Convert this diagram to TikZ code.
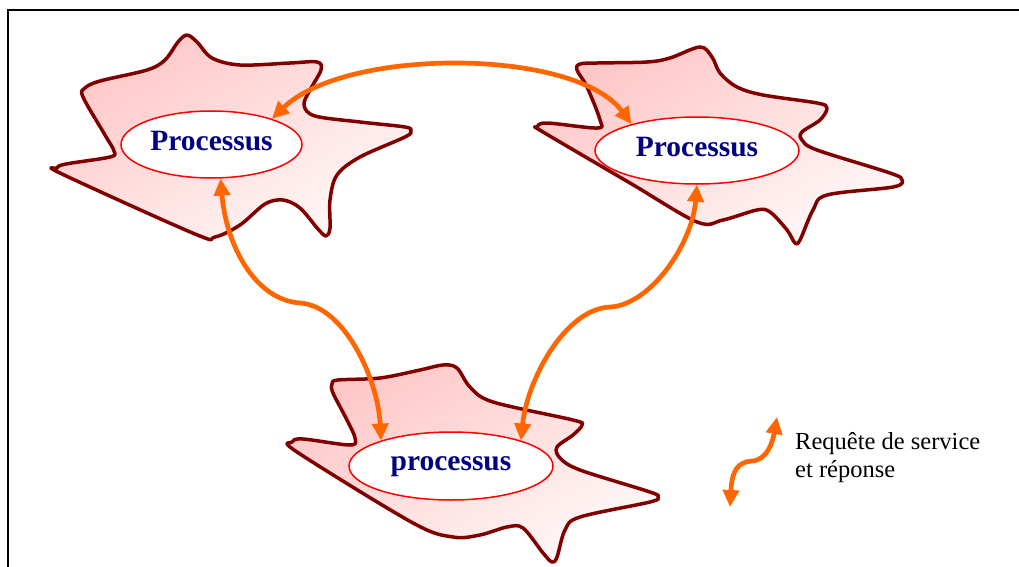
\documentclass[tikz,border=0pt]{standalone}
\usepackage{fontspec}
\setmainfont{Liberation Serif}
\usetikzlibrary{arrows.meta,shapes.geometric}
\definecolor{blobline}{RGB}{128,0,0}
\definecolor{blobtop}{RGB}{255,198,198}
\definecolor{blobbot}{RGB}{255,248,248}
\definecolor{arrowc}{RGB}{255,102,0}
\definecolor{navytext}{RGB}{0,0,128}
\begin{document}
\begin{tikzpicture}[x=1pt,y=-1pt,
  blob/.style={draw=blobline, line width=3.5pt, line join=round, top color=blobtop, bottom color=blobbot, shading angle=30},
  proc/.style={ellipse, draw=red, line width=1.5pt, fill=white, inner sep=0pt, text=navytext,
    font=\fontsize{29.5}{32}\selectfont\bfseries, text height=20pt, text depth=8pt},
  link/.style={draw=arrowc, line width=4.7pt, {Triangle[length=17pt,width=16pt]}-{Triangle[length=17pt,width=16pt]}},
  legtext/.style={anchor=base west, font=\fontsize{24.5}{28}\selectfont, inner sep=0pt}
]
\useasboundingbox (0,0) rectangle (1019,567);
\draw[line width=2pt] (8,567) -- (8,10) -- (1019,10);

% blobs
\draw[blob] plot[smooth cycle, tension=0.55] coordinates {
 (187,35) (197,42) (212,58) (240,65) (290,63) (317,62) (321,70) (310,90) (304,105)
 (315,116) (360,122) (405,127) (411,131) (405,137) (360,157) (337,175) (330,200)
 (330,228) (326,236) (318,229) (300,208) (283,200) (265,204) (240,225) (215,237)
 (195,234) (62,174) (57,168) (66,164) (110,157) (114,151) (105,135) (83,97) (85,88)
 (100,81) (147,70) (165,60) (178,42)};
\draw[blob] plot[smooth cycle, tension=0.55] coordinates {
 (597,63) (647,62) (670,58) (700,47) (712,57) (720,73) (737,87) (763,95) (817,103)
 (827,108) (820,120) (802,132) (802,140) (817,150) (890,173) (902,180) (893,187)
 (827,195) (813,210) (800,240) (795,243) (787,230) (770,212) (757,210) (723,220)
 (697,222) (630,183) (543,132) (537,127) (547,123) (597,128) (600,120) (587,87)
 (577,70) (580,64)};
\draw[blob] plot[smooth cycle, tension=0.55] coordinates {
 (338,380) (380,378) (420,370) (443,365) (457,368) (470,387) (493,402) (573,420)
 (582,425) (573,435) (557,447) (560,458) (580,470) (650,492) (658,497) (650,502)
 (580,517) (565,530) (557,557) (552,562) (543,553) (523,528) (507,527) (480,535)
 (453,537) (413,523) (297,452) (292,442) (303,439) (350,445) (355,438) (347,420)
 (333,393) (332,384)};

% process ellipses
\node[proc, minimum width=181pt, minimum height=67pt] (p1) at (211.5,144.5) {Processus};
\node[proc, minimum width=204pt, minimum height=67pt] (p2) at (697,150.5) {Processus};
\node[proc, minimum width=204pt, minimum height=68pt, text height=18pt, text depth=10pt] (p3) at (451,466) {processus};

% connectors
\draw[link] (p1.23) .. controls (346,47) and (575,48) .. (p2.158);
\coordinate (bm) at (300,303);
\draw[link] (p1.-75) .. controls (226,245) and (255,300) .. (bm)
  .. controls (345,306) and (378,380) .. (p3.160);
\coordinate (cm) at (610,307);
\draw[link] (p2.-90) .. controls (692,245) and (650,305) .. (cm)
  .. controls (565,309) and (527,380) .. (p3.20);

% legend
\coordinate (l1) at (730,507);
\coordinate (lm) at (752,461);
\coordinate (l2) at (777,417);
\draw[link] (l1) .. controls (732,470) and (738,462) .. (lm) .. controls (768,460) and (773,440) .. (l2);
\node[legtext] (leg1) at (795,449) {Requête de service};
\node[legtext] (leg2) at (795,477) {et réponse};
\end{tikzpicture}
\end{document}
